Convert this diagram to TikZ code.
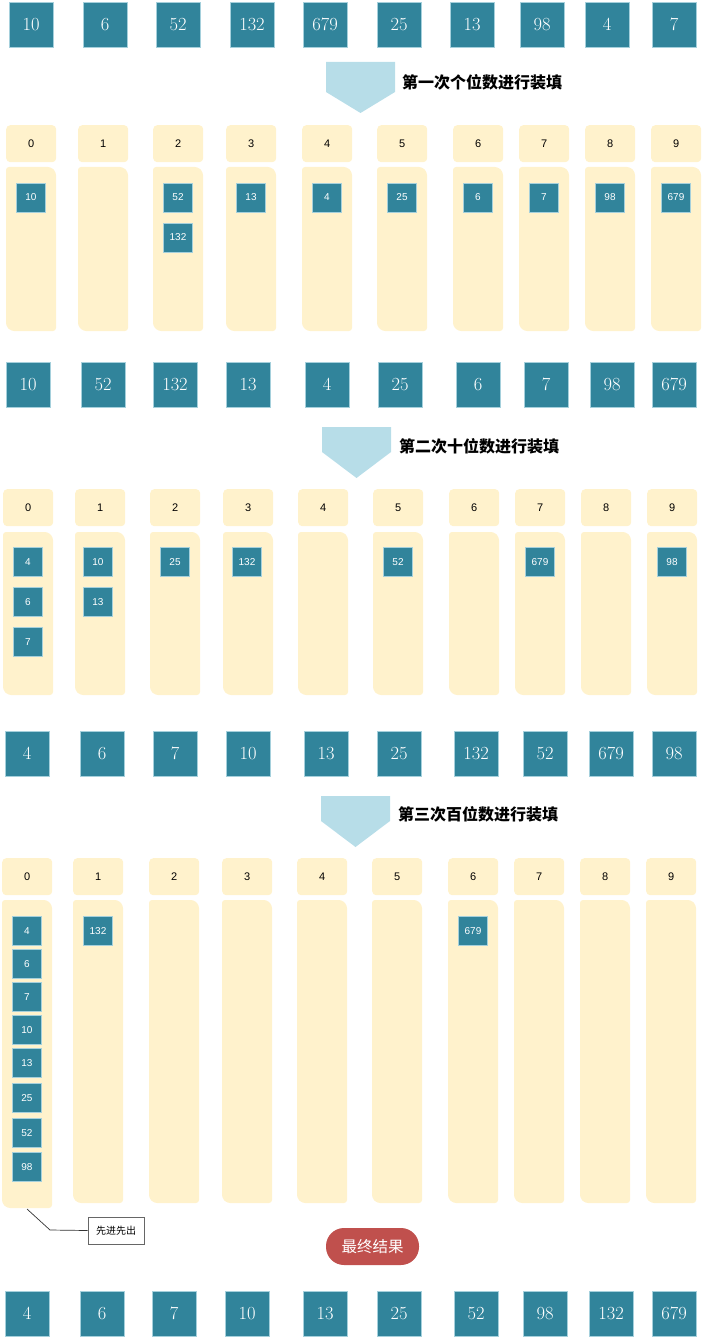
\documentclass[tikz,border=0pt]{standalone}
\usepackage{fontspec}
\newfontfamily\cjk{Noto Sans CJK SC}
\newfontfamily\pixsans{Liberation Sans}
\usetikzlibrary{positioning,calc}
\definecolor{numteal}{RGB}{49,132,155}
\definecolor{numedge}{RGB}{165,208,220}
\definecolor{bucketfill}{RGB}{255,242,204}
\definecolor{arrowblue}{RGB}{183,221,232}
\definecolor{finalred}{RGB}{192,80,77}

% bucket body: left x, top y, right x, bottom y
\newcommand{\bucketbody}[4]{%
  \fill[bucketfill, rounded corners=3pt] (#1,#4-5) -- (#1,#2) -- (#3-5,#2) -- (#3,#2+5) -- (#3,#4) -- (#1+5,#4) -- cycle;}

\begin{document}
\begin{tikzpicture}[
      x=1pt, y=-1pt,
      bignum/.style={fill=numteal, draw=numedge, line width=0.8pt, minimum width=44pt, minimum height=45pt,
        inner sep=0pt, text=white, font=\fontsize{18.5}{18.5}\selectfont},
      item/.style={fill=numteal, draw=numedge, line width=0.8pt, minimum size=29pt, inner sep=0pt,
        text=white, font=\pixsans\fontsize{10}{10}\selectfont},
      digit/.style={fill=bucketfill, rounded corners=4pt, minimum width=50pt, minimum height=37pt,
        inner sep=0pt, anchor=north west, font=\pixsans\fontsize{11}{11}\selectfont},
      passtext/.style={anchor=west, inner sep=0pt, font=\cjk\bfseries\fontsize{16}{16}\selectfont},
      note/.style={draw=black!60, line width=0.9pt, fill=white, minimum width=56pt, minimum height=27pt,
        inner sep=0pt, font=\cjk\fontsize{10}{10}\selectfont},
      finalpill/.style={fill=finalred, rounded corners=18pt, minimum width=93pt, minimum height=37pt,
        inner sep=0pt, text=white, font=\cjk\fontsize{15.5}{15.5}\selectfont}
    ]
    \useasboundingbox (0,0) rectangle (702,1337);

    % input
    \foreach \i/\x/\v in {1/31/10, 2/105/6, 3/178/52, 4/252/132, 5/325/679,
                          6/399/25, 7/472/13, 8/542/98, 9/607/4, 10/674/7}
      \node[bignum] (in\i) at (\x,24.5) {\v};

    % pass 1: units
    \fill[arrowblue] (326,62) -- (395,62) -- (395,92) -- (360.5,113) -- (326,92) -- cycle;
    \node[passtext] (pass1) at (402,82) {第一次个位数进行装填};
    \foreach \i/\x in {0/6, 1/78, 2/153, 3/226, 4/302, 5/377, 6/453, 7/519, 8/585, 9/651} {
      \node[digit] (ba\i) at (\x,125) {\i};
      \bucketbody{\x}{167}{\x+50}{331}
    }
    \foreach \n/\x/\y/\v in {1/31/197.5/10, 2/178/197.5/52, 3/178/237.5/132, 4/251/197.5/13,
                             5/327/197.5/4, 6/402/197.5/25, 7/478/197.5/6, 8/544/197.5/7,
                             9/610/197.5/98, 10/676/197.5/679}
      \node[item] (ia\n) at (\x,\y) {\v};
    \foreach \i/\x/\v in {1/28/10, 2/103/52, 3/175/132, 4/248/13, 5/327/4,
                          6/400/25, 7/478/6, 8/546/7, 9/612/98, 10/674/679}
      \node[bignum] (ra\i) at (\x,384.5) {\v};

    % pass 2: tens
    \fill[arrowblue] (322,427) -- (391,427) -- (391,452) -- (356.5,478) -- (322,452) -- cycle;
    \node[passtext] (pass2) at (399,446) {第二次十位数进行装填};
    \foreach \i/\x in {0/3, 1/75, 2/150, 3/223, 4/298, 5/373, 6/449, 7/515, 8/581, 9/647} {
      \node[digit] (bb\i) at (\x,489) {\i};
      \bucketbody{\x}{532}{\x+50}{695}
    }
    \foreach \n/\x/\y/\v in {1/28/562/4, 2/28/602/6, 3/28/642/7, 4/98/562/10, 5/98/602/13,
                             6/175/562/25, 7/247/562/132, 8/398/562/52, 9/540/562/679, 10/672/562/98}
      \node[item] (ib\n) at (\x,\y) {\v};
    \foreach \i/\x/\v in {1/27/4, 2/102/6, 3/175/7, 4/248/10, 5/326/13,
                          6/399/25, 7/476/132, 8/545/52, 9/611/679, 10/674/98}
      \node[bignum] (rb\i) at (\x,753.5) {\v};

    % pass 3: hundreds
    \fill[arrowblue] (321,796) -- (390,796) -- (390,821) -- (355.5,847) -- (321,821) -- cycle;
    \node[passtext] (pass3) at (398,814) {第三次百位数进行装填};
    \bucketbody{2}{900}{52}{1208}
    \node[digit] (bc0) at (2,858) {0};
    \foreach \i/\x in {1/73, 2/149, 3/222, 4/297, 5/372, 6/448, 7/514, 8/580, 9/646} {
      \node[digit] (bc\i) at (\x,858) {\i};
      \bucketbody{\x}{900}{\x+50}{1203}
    }
    \foreach \n/\y/\v in {1/931/4, 2/964/6, 3/997/7, 4/1030/10, 5/1063/13, 6/1098/25, 7/1133/52, 8/1167/98}
      \node[item] (ic\n) at (27,\y) {\v};
    \node[item] (ic9) at (98,931) {132};
    \node[item] (ic10) at (473,931) {679};

    % first in, first out
    \coordinate (fifoend) at (27,1209);
    \coordinate (fifobend) at (50,1230);
    \node[note] (fifo) at (116,1230.5) {先进先出};
    \draw[black!80, line width=0.7pt] (fifoend) -- (fifobend) -- (fifo.west);

    % result
    \node[finalpill] (final) at (372.5,1246.5) {最终结果};
    \foreach \i/\x/\v in {1/27/4, 2/102/6, 3/174/7, 4/247/10, 5/325/13,
                          6/399/25, 7/476/52, 8/545/98, 9/611/132, 10/674/679}
      \node[bignum] (out\i) at (\x,1313.5) {\v};
  \end{tikzpicture}
\end{document}
